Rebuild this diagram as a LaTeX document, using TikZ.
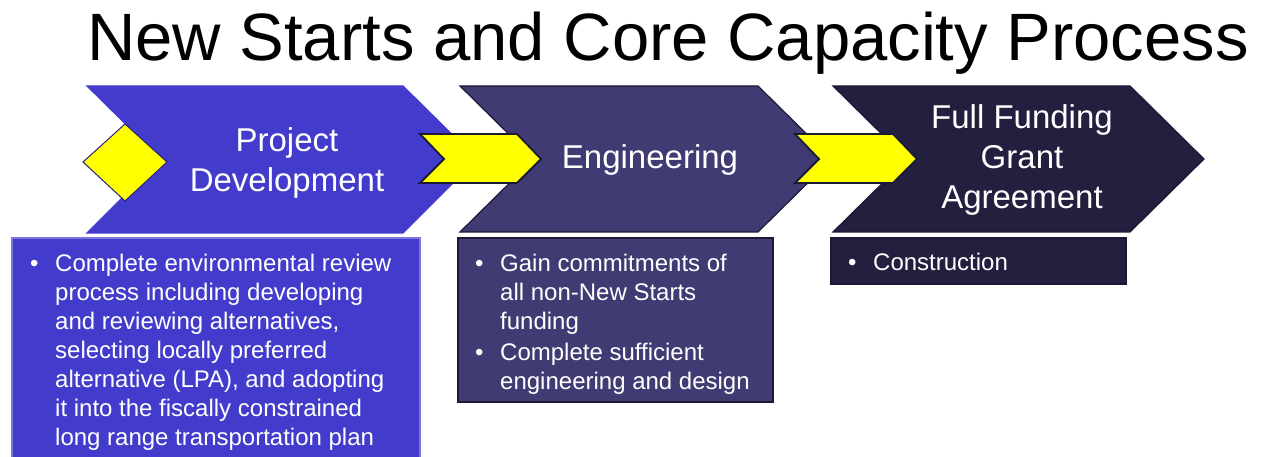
\documentclass[tikz,border=0pt]{standalone}
\usepackage{fontspec}
\setmainfont{Liberation Sans}

\definecolor{bleuPD}{HTML}{433BCB}
\definecolor{bleuEng}{HTML}{403B72}
\definecolor{bleuFF}{HTML}{221F3F}
\definecolor{marine}{HTML}{1A1936}
\definecolor{jaune}{HTML}{FFFF00}

\tikzset{
  etape/.style={line width=1.2pt, line join=miter},
  fleche/.style={fill=jaune, draw=marine, line width=1.8pt, line join=miter},
  etiquette/.style={text=white, align=center, font=\fontsize{33}{40}\selectfont},
  liste/.style={text=white, anchor=north west, inner sep=0pt, font=\fontsize{24}{29}\selectfont},
}

\begin{document}
\begin{tikzpicture}[x=1pt,y=-1pt]
      \useasboundingbox (0,0) rectangle (1262,457);

      %titre
      \node (titre) at (668,61) [anchor=base, font=\fontsize{67}{80}\selectfont] {New Starts and Core Capacity Process};

      %chevrons
      \draw [etape, fill=bleuPD, draw=bleuPD] (87,86) -- (403,86) -- (477,159) -- (403,233) -- (87,233) -- (161,159) -- cycle;
      \draw [etape, fill=bleuEng, draw=marine] (460,86) -- (758,86) -- (832,159) -- (758,232) -- (460,232) -- (534,159) -- cycle;
      \draw [etape, fill=bleuFF, draw=marine] (833,86) -- (1130,86) -- (1204,159) -- (1130,232) -- (833,232) -- (907,159) -- cycle;

      %losange et fleches jaunes
      \draw [fleche, line width=1pt, draw=bleuPD!60!black] (83,162) -- (125,124) -- (167,162) -- (125,201) -- cycle;
      \draw [fleche] (420,134) -- (517,134) -- (541,159) -- (517,183) -- (420,183) -- (444,159) -- cycle;
      \draw [fleche] (795,134) -- (893,134) -- (917,159) -- (893,183) -- (795,183) -- (819,159) -- cycle;

      %etiquettes des etapes
      \node (pd) at (287,163) [etiquette] {Project\\Development};
      \node (eng) at (650,160) [etiquette] {Engineering};
      \node (ffga) at (1022,160) [etiquette] {Full Funding\\Grant\\Agreement};

      %boites du bas
      \draw [etape, fill=bleuPD, draw=bleuPD!70!white] (12,238) rectangle (420,460);
      \draw [etape, fill=bleuEng, draw=marine] (458,238) rectangle (773,402);
      \draw [etape, fill=bleuFF, draw=marine] (831,238) rectangle (1126,284);

      \node (liste1) at (30,251) [liste] {\begin{tabular}{@{}p{25pt}@{}l@{}}
        \textbullet & Complete environmental review\\
         & process including developing\\
         & and reviewing alternatives,\\
         & selecting locally preferred\\
         & alternative (LPA), and adopting\\
         & it into the fiscally constrained\\
         & long range transportation plan
      \end{tabular}};
      \node (liste2) at (475,251) [liste] {\begin{tabular}{@{}p{25pt}@{}l@{}}
        \textbullet & Gain commitments of\\
         & all non-New Starts\\
         & funding\\[2pt]
        \textbullet & Complete sufficient\\
         & engineering and design
      \end{tabular}};
      \node (liste3) at (848,250) [liste] {\begin{tabular}{@{}p{25pt}@{}l@{}}
        \textbullet & Construction
      \end{tabular}};
    \end{tikzpicture}
\end{document}
